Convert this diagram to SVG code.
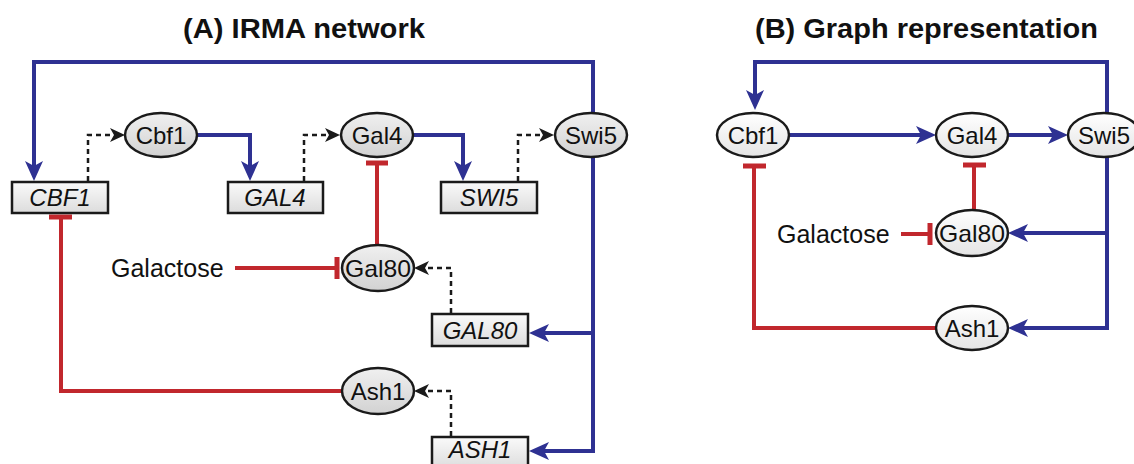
<svg xmlns="http://www.w3.org/2000/svg" xmlns:xlink="http://www.w3.org/1999/xlink" width="1134" height="464" viewBox="0 0 1134 464">
  <style>
    .title { font-family: "Liberation Sans", Arial, sans-serif; font-weight: bold; font-size: 27px; fill: #111; }
    .lbl { font-family: "Liberation Sans", Arial, sans-serif; font-size: 24px; fill: #111; text-anchor: middle; }
    .gene { font-family: "Liberation Sans", Arial, sans-serif; font-style: italic; font-size: 24px; fill: #111; text-anchor: middle; }
    .free { font-family: "Liberation Sans", Arial, sans-serif; font-size: 25px; fill: #111; }
    .protA { fill: url(#gradA); stroke: #1a1a1a; stroke-width: 2.5; }
    .protB { fill: url(#gradB); stroke: #1a1a1a; stroke-width: 2.5; }
    .box { fill: url(#gradBox); stroke: #1a1a1a; stroke-width: 2.5; }
    .act { fill: none; stroke: #2e3192; stroke-width: 4; }
    .inh { fill: none; stroke: #c1272d; stroke-width: 4; }
    .bar { fill: none; stroke: #c1272d; stroke-width: 5; }
    .expr { fill: none; stroke: #1a1a1a; stroke-width: 2.5; stroke-dasharray: 5 4; }
  </style>
  <defs>
    <linearGradient id="gradA" x1="0" y1="0" x2="0" y2="1">
      <stop offset="0" stop-color="#f0f0f0"/>
      <stop offset="1" stop-color="#d2d2d2"/>
    </linearGradient>
    <linearGradient id="gradB" x1="0" y1="0" x2="0" y2="1">
      <stop offset="0" stop-color="#ffffff"/>
      <stop offset="1" stop-color="#e4e4e4"/>
    </linearGradient>
    <linearGradient id="gradBox" x1="0" y1="0" x2="0" y2="1">
      <stop offset="0" stop-color="#fafafa"/>
      <stop offset="1" stop-color="#dcdcdc"/>
    </linearGradient>
    <!-- arrowheads: tip at origin, pointing along +x -->
    <path id="ahBlue" d="M0,0 L-20,-9 L-15,0 L-20,9 Z" fill="#2e3192"/>
    <path id="ahBlack" d="M0,0 L-15,-7 L-11,0 L-15,7 Z" fill="#1a1a1a"/>
  </defs>

  <!-- panel titles -->
  <text class="title" x="183" y="38" textLength="242" lengthAdjust="spacingAndGlyphs">(A) IRMA network</text>
  <text class="title" x="755" y="38" textLength="343" lengthAdjust="spacingAndGlyphs">(B) Graph representation</text>

  <!-- connectors -->
  <g id="connectors">
    <!-- panel A: activation (blue) -->
    <path class="act" d="M593,113 V62 H34 V166"/>
    <use xlink:href="#ahBlue" transform="translate(34,181) rotate(90)"/>
    <path class="act" d="M197,135 H250 V166"/>
    <use xlink:href="#ahBlue" transform="translate(250,181) rotate(90)"/>
    <path class="act" d="M413,135 H463 V166"/>
    <use xlink:href="#ahBlue" transform="translate(463,181) rotate(90)"/>
    <path class="act" d="M593,157 V451 H544"/>
    <use xlink:href="#ahBlue" transform="translate(529,451) rotate(180)"/>
    <path class="act" d="M593,333 H544"/>
    <use xlink:href="#ahBlue" transform="translate(529,333) rotate(180)"/>

    <!-- panel A: expression (dashed) -->
    <path class="expr" d="M88,181 V135 H114"/>
    <use xlink:href="#ahBlack" transform="translate(125,135)"/>
    <path class="expr" d="M304,181 V135 H329"/>
    <use xlink:href="#ahBlack" transform="translate(340,135)"/>
    <path class="expr" d="M518,181 V135 H543"/>
    <use xlink:href="#ahBlack" transform="translate(554,135)"/>
    <path class="expr" d="M451,313 V268 H425"/>
    <use xlink:href="#ahBlack" transform="translate(414,268) rotate(180)"/>
    <path class="expr" d="M451,436 V391 H425"/>
    <use xlink:href="#ahBlack" transform="translate(414,391) rotate(180)"/>

    <!-- panel A: inhibition (red) -->
    <path class="inh" d="M377,245 V163"/>
    <path class="bar" d="M366,163 H388"/>
    <path class="inh" d="M235,268 H337"/>
    <path class="bar" d="M337,257 V279"/>
    <path class="inh" d="M342,391 H61 V217"/>
    <path class="bar" d="M49,217 H72"/>

    <!-- panel B: activation (blue) -->
    <path class="act" d="M1107,113 V62 H755 V95"/>
    <use xlink:href="#ahBlue" transform="translate(755,110) rotate(90)"/>
    <path class="act" d="M789,135 H921"/>
    <use xlink:href="#ahBlue" transform="translate(936,135)"/>
    <path class="act" d="M1008,135 H1053"/>
    <use xlink:href="#ahBlue" transform="translate(1068,135)"/>
    <path class="act" d="M1107,157 V328 H1023"/>
    <use xlink:href="#ahBlue" transform="translate(1008,328) rotate(180)"/>
    <path class="act" d="M1107,233 H1023"/>
    <use xlink:href="#ahBlue" transform="translate(1008,233) rotate(180)"/>

    <!-- panel B: inhibition (red) -->
    <path class="inh" d="M974,210 V165"/>
    <path class="bar" d="M963,165 H986"/>
    <path class="inh" d="M901,234 H930"/>
    <path class="bar" d="M930,223 V245"/>
    <path class="inh" d="M936,328 H754 V166"/>
    <path class="bar" d="M743,166 H766"/>
  </g>

  <!-- panel A: genes -->
  <g id="A-CBF1"><rect class="box" x="12" y="182" width="96" height="31"/><text class="gene" x="60" y="206">CBF1</text></g>
  <g id="A-GAL4"><rect class="box" x="228" y="182" width="95" height="31"/><text class="gene" x="275" y="206">GAL4</text></g>
  <g id="A-SWI5"><rect class="box" x="441" y="182" width="96" height="31"/><text class="gene" x="489" y="206">SWI5</text></g>
  <g id="A-GAL80"><rect class="box" x="432" y="314" width="96" height="32"/><text class="gene" x="480" y="339">GAL80</text></g>
  <g id="A-ASH1"><rect class="box" x="432" y="437" width="96" height="32"/><text class="gene" x="480" y="458">ASH1</text></g>

  <!-- panel A: proteins -->
  <g id="A-Cbf1"><ellipse class="protA" cx="161" cy="135" rx="36" ry="22"/><text class="lbl" x="161" y="143.5">Cbf1</text></g>
  <g id="A-Gal4"><ellipse class="protA" cx="377" cy="135" rx="36" ry="22"/><text class="lbl" x="377" y="143.5">Gal4</text></g>
  <g id="A-Swi5"><ellipse class="protA" cx="591" cy="135" rx="36" ry="22"/><text class="lbl" x="591" y="143.5">Swi5</text></g>
  <g id="A-Gal80"><ellipse class="protA" cx="378" cy="268" rx="36" ry="23"/><text class="lbl" x="378" y="276.5" textLength="66" lengthAdjust="spacingAndGlyphs">Gal80</text></g>
  <g id="A-Ash1"><ellipse class="protA" cx="378" cy="391" rx="36" ry="23"/><text class="lbl" x="378" y="399.5">Ash1</text></g>
  <g id="A-Galactose"><text class="free" x="111" y="277">Galactose</text></g>

  <!-- panel B: graph nodes -->
  <g id="B-Cbf1"><ellipse class="protB" cx="753" cy="135" rx="36" ry="22"/><text class="lbl" x="753" y="143.5">Cbf1</text></g>
  <g id="B-Gal4"><ellipse class="protB" cx="972" cy="135" rx="36" ry="22"/><text class="lbl" x="972" y="143.5">Gal4</text></g>
  <g id="B-Swi5"><ellipse class="protB" cx="1104" cy="135" rx="36" ry="22"/><text class="lbl" x="1104" y="143.5">Swi5</text></g>
  <g id="B-Gal80"><ellipse class="protB" cx="972" cy="233" rx="36" ry="23"/><text class="lbl" x="972" y="241.5" textLength="66" lengthAdjust="spacingAndGlyphs">Gal80</text></g>
  <g id="B-Ash1"><ellipse class="protB" cx="972" cy="328" rx="36" ry="22"/><text class="lbl" x="972" y="336.5">Ash1</text></g>
  <g id="B-Galactose"><text class="free" x="777" y="243">Galactose</text></g>
</svg>
